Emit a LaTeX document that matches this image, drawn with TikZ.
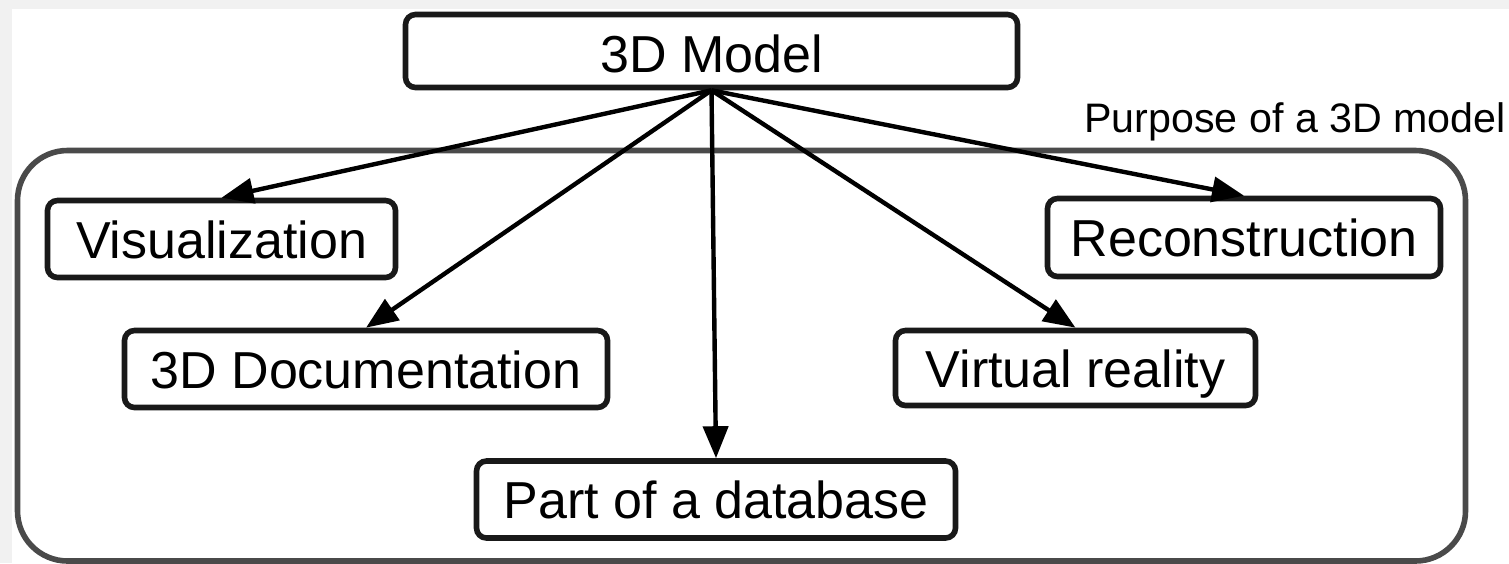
\documentclass[tikz,border=0pt]{standalone}
\usepackage{fontspec}
\setmainfont{Liberation Sans}
\usepackage{xcolor}
\usepackage{tikz}
\usetikzlibrary{arrows.meta}

\definecolor{framegray}{HTML}{4A4A4A}
\definecolor{stripgray}{HTML}{F1F1F1}

\tikzset{
	box/.style={draw=black!90,line width=2.8pt,rounded corners=5pt,inner sep=0pt,
		font=\fontsize{26pt}{30pt}\selectfont,text height=19pt,text depth=0pt},
	arr/.style={line width=2.2pt,-{Triangle[length=16pt,width=12.5pt]}}
}

\begin{document}
\begin{tikzpicture}[x=0.5pt,y=-0.5pt]
	\useasboundingbox (0,0) rectangle (1509,563);

	% scan margins
	\fill[stripgray] (0,0) rectangle (1509,9);
	\fill[stripgray] (0,0) rectangle (12,563);

	\coordinate (F1) at (17.5,150.5);
	\coordinate (F2) at (1465.5,561); % bottom cut
	\draw[framegray,line width=2.8pt,rounded corners=25pt] (F1) rectangle (F2);

	\node[anchor=base west,font=\fontsize{20.6pt}{25pt}\selectfont,inner sep=0pt] (purpose) at (1084,132) {Purpose of a 3D model};

	\node[box,minimum width=306pt,minimum height=36.5pt,text height=21pt] (model) at (711.5,51) {3D Model};

	\node[box,minimum width=174pt,minimum height=38.5pt] (vis) at (221.5,239) {Visualization};
	\node[box,minimum width=241.5pt,minimum height=38.5pt] (doc) at (366,369) {3D Documentation};
	\node[box,minimum width=239.5pt,minimum height=38.5pt] (db) at (716,499.5) {Part of a database};
	\node[box,minimum width=180pt,minimum height=37.5pt] (vr) at (1075.5,368) {Virtual reality};
	\node[box,minimum width=196.5pt,minimum height=39pt] (rec) at (1244,237.5) {Reconstruction};

	\foreach \t in {vis,doc,db,vr,rec}
		\draw[arr] (model.south) -- (\t.north);
\end{tikzpicture}
\end{document}
